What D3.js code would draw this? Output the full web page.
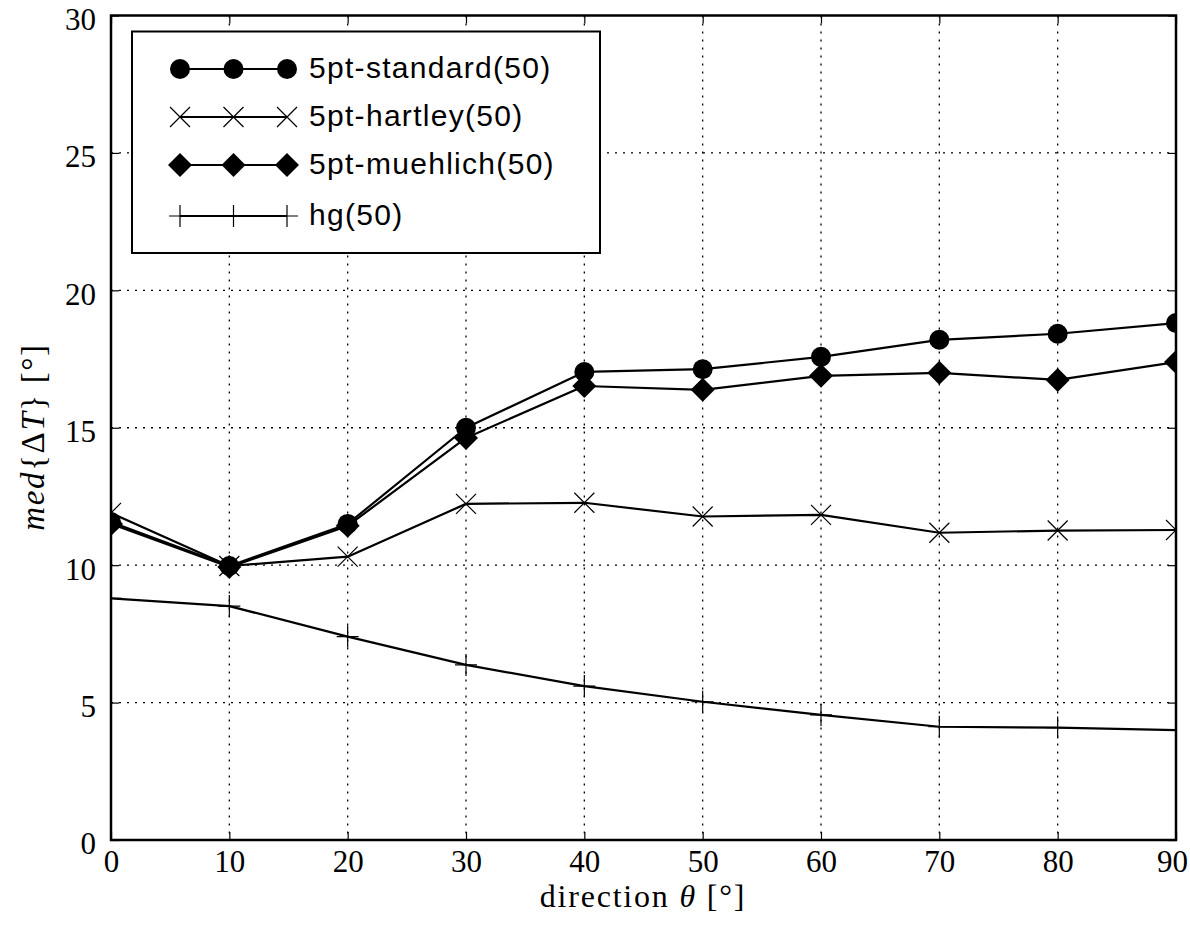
<!DOCTYPE html>
<html>
<head>
<meta charset="utf-8">
<script src="https://cdn.jsdelivr.net/npm/d3@7/dist/d3.min.js"></script>
<style>
  html, body { margin: 0; padding: 0; background: #fff; }
  svg { display: block; }
</style>
</head>
<body>
<svg id="chart" width="1190" height="927"></svg>
<script>
// Direction angles (degrees) on the x axis
const directions = [0, 10, 20, 30, 40, 50, 60, 70, 80, 90];

// Median angular error per method
const standard50 = [11.57, 9.97, 11.50, 15.00, 17.03, 17.13, 17.58, 18.20, 18.42, 18.81];
const hartley50  = [11.90, 9.97, 10.31, 12.23, 12.27, 11.77, 11.83, 11.18, 11.26, 11.28];
const muehlich50 = [11.50, 9.93, 11.43, 14.63, 16.52, 16.38, 16.89, 17.00, 16.74, 17.39];
const hg50       = [8.79, 8.51, 7.40, 6.37, 5.60, 5.03, 4.55, 4.12, 4.09, 4.00];

const seriesNames = ["5pt-standard(50)", "5pt-hartley(50)", "5pt-muehlich(50)", "hg(50)"];
const seriesMarkers = ["circle", "cross", "diamond", "plus"];
const seriesValues = [standard50, hartley50, muehlich50, hg50];

const xTicks = [0, 10, 20, 30, 40, 50, 60, 70, 80, 90];
const yTicks = [0, 5, 10, 15, 20, 25, 30];

const svg = d3.select("#chart");
const margin = { left: 111, top: 15.5, right: 1176, bottom: 840 };

const x = d3.scaleLinear().domain([0, 90]).range([margin.left, margin.right]);
const y = d3.scaleLinear().domain([0, 30]).range([margin.bottom, margin.top]);

const serif = "'Liberation Serif', 'DejaVu Serif', serif";
const sans = "'Liberation Sans', Arial, sans-serif";

// Dotted grid
const grid = svg.append("g");
grid.selectAll("line.vx").data(xTicks.slice(1, -1)).join("line")
  .attr("x1", d => x(d)).attr("x2", d => x(d))
  .attr("y1", margin.top).attr("y2", margin.bottom)
  .attr("stroke", "#000").attr("stroke-width", 1.3).attr("stroke-dasharray", "2,6");
grid.selectAll("line.hy").data(yTicks.slice(1, -1)).join("line")
  .attr("x1", margin.left).attr("x2", margin.right)
  .attr("y1", d => y(d)).attr("y2", d => y(d))
  .attr("stroke", "#000").attr("stroke-width", 1.3).attr("stroke-dasharray", "2,6");

// Inward ticks on all four sides
const tickLen = 8;
const axB = d3.axisBottom(x).tickValues(xTicks).tickSize(-tickLen).tickFormat(d3.format("d")).tickPadding(10);
const axT = d3.axisTop(x).tickValues(xTicks).tickSize(-tickLen).tickFormat("");
const axL = d3.axisLeft(y).tickValues(yTicks).tickSize(-tickLen).tickFormat(d3.format("d")).tickPadding(15);
const axR = d3.axisRight(y).tickValues(yTicks).tickSize(-tickLen).tickFormat("");

function styleAxis(g) {
  g.select(".domain").remove();
  g.selectAll(".tick line").attr("stroke", "#000").attr("stroke-width", 1.2);
  g.selectAll(".tick text").attr("font-family", serif).attr("font-size", 31).attr("fill", "#000");
}
const gB = svg.append("g").attr("transform", `translate(0,${margin.bottom})`).call(axB).call(styleAxis);
// keep the last label inside the canvas
gB.selectAll(".tick text").filter(d => d === 90).attr("dx", -4);
svg.append("g").attr("transform", `translate(0,${margin.top})`).call(axT).call(styleAxis);
svg.append("g").attr("transform", `translate(${margin.left},0)`).call(axL).call(styleAxis)
  .selectAll(".tick text").attr("dy", "0.45em");
svg.append("g").attr("transform", `translate(${margin.right},0)`).call(axR).call(styleAxis);

// Marker drawing
function drawMarker(g, type, cx, cy) {
  if (type === "circle") {
    g.append("circle").attr("cx", cx).attr("cy", cy).attr("r", 10).attr("fill", "#000");
  } else if (type === "diamond") {
    const s = 12;
    g.append("path").attr("d", `M${cx},${cy - s}L${cx + s},${cy}L${cx},${cy + s}L${cx - s},${cy}Z`).attr("fill", "#000");
  } else if (type === "cross") {
    const s = 10;
    g.append("path").attr("d", `M${cx - s},${cy - s}L${cx + s},${cy + s}M${cx - s},${cy + s}L${cx + s},${cy - s}`)
      .attr("stroke", "#000").attr("stroke-width", 1.2).attr("fill", "none");
  } else if (type === "plus") {
    const s = 11;
    g.append("path").attr("d", `M${cx - s},${cy}L${cx + s},${cy}M${cx},${cy - s}L${cx},${cy + s}`)
      .attr("stroke", "#000").attr("stroke-width", 1.2).attr("fill", "none");
  }
}

// Series lines and markers, clipped to the plot area
svg.append("defs").append("clipPath").attr("id", "plotClip")
  .append("rect").attr("x", margin.left).attr("y", margin.top)
  .attr("width", margin.right - margin.left).attr("height", margin.bottom - margin.top);

const line = d3.line().x(d => x(d[0])).y(d => y(d[1]));
const plot = svg.append("g").attr("clip-path", "url(#plotClip)");
seriesValues.forEach((vals, i) => {
  const pts = directions.map((d, j) => [d, vals[j]]);
  plot.append("path").datum(pts).attr("d", line)
    .attr("fill", "none").attr("stroke", "#000").attr("stroke-width", 2.2).attr("stroke-linejoin", "round");
  const mg = plot.append("g");
  pts.forEach(p => drawMarker(mg, seriesMarkers[i], x(p[0]), y(p[1])));
});

// Frame
svg.append("rect")
  .attr("x", margin.left).attr("y", margin.top)
  .attr("width", margin.right - margin.left).attr("height", margin.bottom - margin.top)
  .attr("fill", "none").attr("stroke", "#000").attr("stroke-width", 2.5);

// Legend
const legend = svg.append("g");
legend.append("rect").attr("x", 132).attr("y", 31.5).attr("width", 468).attr("height", 221.5)
  .attr("fill", "#fff").attr("stroke", "#000").attr("stroke-width", 2);
const rowY = [69, 117, 165, 216];
seriesNames.forEach((name, i) => {
  const ly = rowY[i];
  legend.append("line").attr("x1", 180).attr("x2", 287).attr("y1", ly).attr("y2", ly)
    .attr("stroke", "#000").attr("stroke-width", 2.2);
  [180, 233.5, 287].forEach(mx => drawMarker(legend, seriesMarkers[i], mx, ly));
  legend.append("text").attr("x", 309).attr("y", ly + 9)
    .attr("font-family", sans).attr("font-size", 30).attr("letter-spacing", 1.3).attr("fill", "#000")
    .text(name);
});

// Axis titles
svg.append("text").attr("x", 643).attr("y", 907).attr("text-anchor", "middle")
  .attr("font-family", serif).attr("font-size", 32).attr("letter-spacing", 1.8).attr("fill", "#000")
  .html("direction <tspan font-style='italic'>θ</tspan> [°]");

svg.append("text").attr("transform", "translate(44,437) rotate(-90)").attr("text-anchor", "middle")
  .attr("font-family", serif).attr("font-size", 33).attr("letter-spacing", 1.6).attr("fill", "#000")
  .html("<tspan font-style='italic'>med</tspan>{Δ<tspan font-style='italic'>T</tspan>} [°]");
</script>
</body>
</html>
